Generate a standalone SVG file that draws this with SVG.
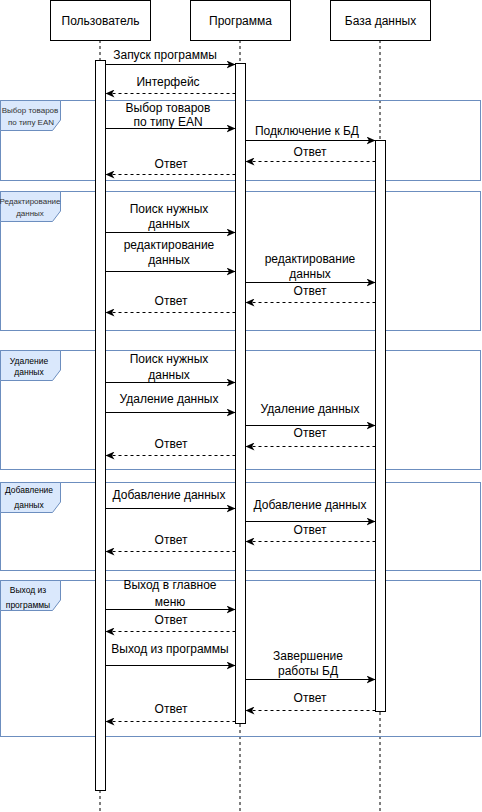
<svg xmlns="http://www.w3.org/2000/svg" width="482" height="812" viewBox="0 0 482 812">
  <style>
    .actor { fill: #ffffff; stroke: #000000; stroke-width: 1; }
    .life { stroke: #000000; stroke-width: 1; stroke-dasharray: 3 3; fill: none; }
    .act { fill: #ffffff; stroke: #000000; stroke-width: 1; }
    .frame { fill: none; stroke: #6c8ebf; stroke-width: 1; }
    .tab { fill: #dae8fc; stroke: #6c8ebf; stroke-width: 1; }
    .msg { stroke: #000000; stroke-width: 1; fill: none; marker-end: url(#arrow); }
    .ret { stroke: #000000; stroke-width: 1; fill: none; stroke-dasharray: 3 3; marker-end: url(#arrow); }
    text { font-family: "Liberation Sans", Arial, Helvetica, sans-serif; fill: #000000; }
    .t { font-size: 12px; text-anchor: middle; }
    .ft { font-size: 8.5px; text-anchor: middle; }
    .fts { font-size: 8px; text-anchor: middle; fill: #333333; }
  </style>
  <defs>
    <marker id="arrow" markerUnits="userSpaceOnUse" markerWidth="10" markerHeight="8" refX="9" refY="4" orient="auto">
      <path d="M0,0 L9,4 L0,8 L2.5,4 Z" fill="#000000"/>
    </marker>
  </defs>

  <rect width="482" height="812" fill="#ffffff"/>

  <!-- lifelines -->
  <g id="lifelines">
    <line class="life" x1="100" y1="40" x2="100" y2="812"/>
    <line class="life" x1="240" y1="40" x2="240" y2="812"/>
    <line class="life" x1="380" y1="40" x2="380" y2="812"/>
  </g>

  <!-- combined fragments -->
  <g id="frame-select">
    <rect class="frame" x="0.5" y="100.5" width="480" height="80"/>
    <path class="tab" d="M0.5,100.5 H60.5 V120 L52.5,130.5 H0.5 Z"/>
    <text class="fts" x="30" y="113">Выбор товаров</text>
    <text class="fts" x="31" y="124.5">по типу  EAN</text>
  </g>
  <g id="frame-edit">
    <rect class="frame" x="0.5" y="191.5" width="480" height="139"/>
    <path class="tab" d="M0.5,191.5 H60.5 V211 L52.5,221.5 H0.5 Z"/>
    <text class="fts" x="30" y="204">Редактирование</text>
    <text class="fts" x="30" y="215.5">данных</text>
  </g>
  <g id="frame-delete">
    <rect class="frame" x="0.5" y="350.5" width="480" height="119"/>
    <path class="tab" d="M0.5,350.5 H60.5 V370 L52.5,380.5 H0.5 Z"/>
    <text class="ft" x="29" y="363.5">Удаление</text>
    <text class="ft" x="29" y="374.5">данных</text>
  </g>
  <g id="frame-add">
    <rect class="frame" x="0.5" y="482.5" width="480" height="88"/>
    <path class="tab" d="M0.5,482.5 H60.5 V502 L52.5,512.5 H0.5 Z"/>
    <text class="ft" x="29" y="493">Добавление</text>
    <text class="ft" x="29" y="508">данных</text>
  </g>
  <g id="frame-exit">
    <rect class="frame" x="0.5" y="580.5" width="480" height="156"/>
    <path class="tab" d="M0.5,580.5 H60.5 V600 L52.5,610.5 H0.5 Z"/>
    <text class="ft" x="28" y="593">Выход из</text>
    <text class="ft" x="28" y="608">программы</text>
  </g>

  <!-- actors -->
  <g id="user">
    <rect class="actor" x="50.5" y="0.5" width="100" height="40"/>
    <text class="t" x="100.5" y="24.5">Пользователь</text>
  </g>
  <g id="program">
    <rect class="actor" x="190.5" y="0.5" width="100" height="40"/>
    <text class="t" x="240.5" y="24.5">Программа</text>
  </g>
  <g id="database">
    <rect class="actor" x="330.5" y="0.5" width="100" height="40"/>
    <text class="t" x="380.5" y="24.5">База данных</text>
  </g>

  <!-- activation bars -->
  <g id="activations">
    <rect class="act" x="95.5" y="60.5" width="10" height="730"/>
    <rect class="act" x="235.5" y="63.5" width="10" height="660"/>
    <rect class="act" x="375.5" y="140.5" width="10" height="571"/>
  </g>

  <!-- messages -->
  <g id="connectors">
    <line class="msg" x1="105.5" y1="64.5" x2="235.5" y2="64.5"/>
    <line class="ret" x1="235.5" y1="93.5" x2="105.5" y2="93.5"/>

    <line class="msg" x1="105.5" y1="128.5" x2="235.5" y2="128.5"/>
    <line class="msg" x1="245.5" y1="140.5" x2="375.5" y2="140.5"/>
    <line class="ret" x1="375.5" y1="161.5" x2="245.5" y2="161.5"/>
    <line class="ret" x1="235.5" y1="174.5" x2="105.5" y2="174.5"/>

    <line class="msg" x1="105.5" y1="232.5" x2="235.5" y2="232.5"/>
    <line class="msg" x1="105.5" y1="271.5" x2="235.5" y2="271.5"/>
    <line class="msg" x1="245.5" y1="282.5" x2="375.5" y2="282.5"/>
    <line class="ret" x1="375.5" y1="302.5" x2="245.5" y2="302.5"/>
    <line class="ret" x1="235.5" y1="312.5" x2="105.5" y2="312.5"/>

    <line class="msg" x1="105.5" y1="382.5" x2="235.5" y2="382.5"/>
    <line class="msg" x1="105.5" y1="412.5" x2="235.5" y2="412.5"/>
    <line class="msg" x1="245.5" y1="425.5" x2="375.5" y2="425.5"/>
    <line class="ret" x1="375.5" y1="446.5" x2="245.5" y2="446.5"/>
    <line class="ret" x1="235.5" y1="455.5" x2="105.5" y2="455.5"/>

    <line class="msg" x1="105.5" y1="508.5" x2="235.5" y2="508.5"/>
    <line class="msg" x1="245.5" y1="521.5" x2="375.5" y2="521.5"/>
    <line class="ret" x1="375.5" y1="541.5" x2="245.5" y2="541.5"/>
    <line class="ret" x1="235.5" y1="551.5" x2="105.5" y2="551.5"/>

    <line class="msg" x1="105.5" y1="609.5" x2="235.5" y2="609.5"/>
    <line class="ret" x1="235.5" y1="631.5" x2="105.5" y2="631.5"/>
    <line class="msg" x1="105.5" y1="665.5" x2="235.5" y2="665.5"/>
    <line class="msg" x1="245.5" y1="679.5" x2="375.5" y2="679.5"/>
    <line class="ret" x1="375.5" y1="710.5" x2="245.5" y2="710.5"/>
    <line class="ret" x1="235.5" y1="721.5" x2="105.5" y2="721.5"/>
  </g>

  <!-- message labels -->
  <g id="labels">
    <text class="t" x="165" y="59">Запуск программы</text>
    <text class="t" x="168" y="86">Интерфейс</text>

    <text class="t" x="168" y="112">Выбор товаров</text>
    <text class="t" x="168" y="126">по типу EAN</text>
    <text class="t" x="307" y="135">Подключение к БД</text>
    <text class="t" x="310" y="156">Ответ</text>
    <text class="t" x="171" y="168">Ответ</text>

    <text class="t" x="169" y="213">Поиск нужных</text>
    <text class="t" x="169" y="228">данных</text>
    <text class="t" x="169" y="249">редактирование</text>
    <text class="t" x="169" y="264">данных</text>
    <text class="t" x="310" y="263">редактирование</text>
    <text class="t" x="310" y="278">данных</text>
    <text class="t" x="310" y="295">Ответ</text>
    <text class="t" x="171" y="305">Ответ</text>

    <text class="t" x="169" y="363">Поиск нужных</text>
    <text class="t" x="169" y="379">данных</text>
    <text class="t" x="169" y="403">Удаление данных</text>
    <text class="t" x="310" y="413">Удаление данных</text>
    <text class="t" x="310" y="437">Ответ</text>
    <text class="t" x="171" y="448">Ответ</text>

    <text class="t" x="169" y="499">Добавление данных</text>
    <text class="t" x="310" y="509">Добавление данных</text>
    <text class="t" x="310" y="534">Ответ</text>
    <text class="t" x="171" y="544">Ответ</text>

    <text class="t" x="170" y="589">Выход в главное</text>
    <text class="t" x="170" y="606">меню</text>
    <text class="t" x="171" y="624">Ответ</text>
    <text class="t" x="170" y="653">Выход из программы</text>
    <text class="t" x="308" y="660">Завершение</text>
    <text class="t" x="308" y="675">работы БД</text>
    <text class="t" x="310" y="702">Ответ</text>
    <text class="t" x="171" y="713">Ответ</text>
  </g>
</svg>
